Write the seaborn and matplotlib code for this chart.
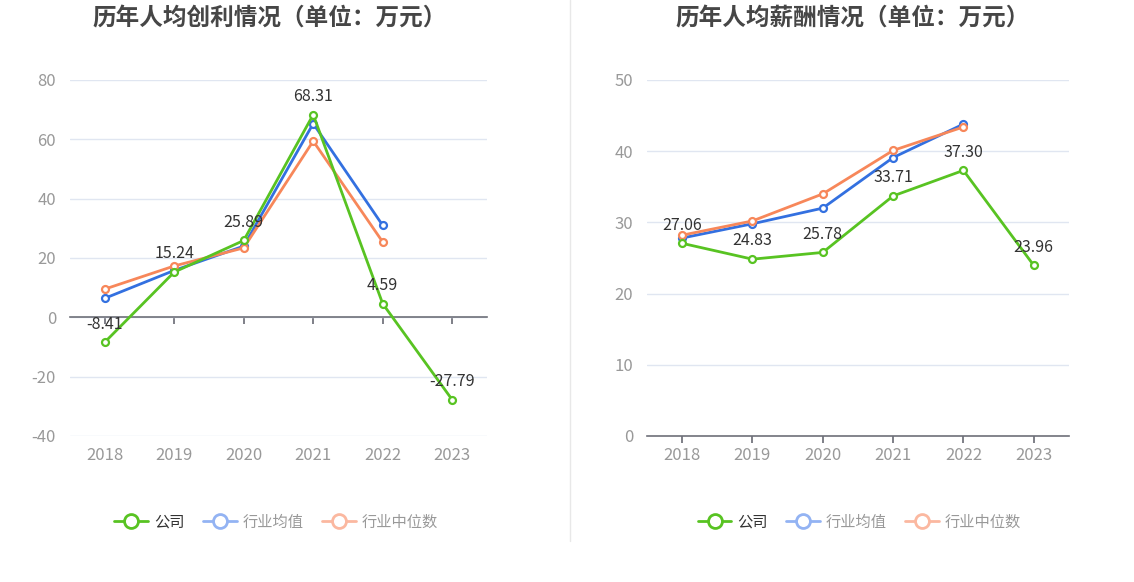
import matplotlib
matplotlib.use("Agg")
import matplotlib.pyplot as plt
import seaborn as sns
from matplotlib.lines import Line2D

years = ["2018", "2019", "2020", "2021", "2022", "2023"]

profit_company = [-8.41, 15.24, 25.89, 68.31, 4.59, -27.79]
profit_avg = [6.4, 15.8, 24.0, 65.3, 31.0]
profit_median = [9.5, 17.3, 23.4, 59.4, 25.4]

salary_company = [27.06, 24.83, 25.78, 33.71, 37.30, 23.96]
salary_avg = [27.8, 29.8, 32.0, 39.1, 43.8]
salary_median = [28.2, 30.2, 34.0, 40.1, 43.4]

series_names = ["公司", "行业均值", "行业中位数"]
colors = ["#58c322", "#3370e0", "#f7875a"]
legend_colors = ["#58c322", "#93b3f3", "#fbb8a0"]
legend_text = ["#333333", "#999999", "#999999"]

sns.set_theme(style="white")
plt.rcParams["font.family"] = ["Noto Sans CJK SC", "DejaVu Sans"]
plt.rcParams["axes.unicode_minus"] = False

fig = plt.figure(figsize=(11.34, 5.82), dpi=100)

panels = [
    dict(title="历年人均创利情况（单位：万元）", company=profit_company, avg=profit_avg,
         median=profit_median, ylim=(-40, 80), yticks=range(-40, 81, 20),
         rect=[0.0617, 0.2509, 0.3677, 0.6117], tx=0.238, lx=0.2436),
    dict(title="历年人均薪酬情况（单位：万元）", company=salary_company, avg=salary_avg,
         median=salary_median, ylim=(0, 50), yticks=range(0, 51, 10),
         rect=[0.5705, 0.2509, 0.3721, 0.6117], tx=0.752, lx=0.758),
]

for p in panels:
    ax = fig.add_axes(p["rect"])
    idx = list(range(len(years)))
    for vals, c in zip([p["avg"], p["median"], p["company"]], [colors[1], colors[2], colors[0]]):
        sns.lineplot(x=idx[:len(vals)], y=vals, ax=ax, color=c, linewidth=2,
                     marker="o", markersize=5, markerfacecolor="white",
                     markeredgecolor=c, markeredgewidth=1.6, zorder=3)
    for i, v in enumerate(p["company"]):
        ax.annotate(f"{v:.2f}", (i, v), xytext=(0, 7), textcoords="offset points",
                    ha="center", va="bottom", fontsize=11.5, color="#333333", zorder=5)

    ax.set_xlim(-0.5, len(years) - 0.5)
    ax.set_ylim(*p["ylim"])
    ax.set_yticks(list(p["yticks"]))
    ax.yaxis.grid(True, color="#e0e6f1", linewidth=1)
    ax.set_axisbelow(True)
    for s in ["top", "right", "left"]:
        ax.spines[s].set_visible(False)
    ax.spines["bottom"].set_position(("data", 0))
    ax.spines["bottom"].set_color("#6e7079")
    ax.spines["bottom"].set_linewidth(1.2)
    ax.set_xticks(idx)
    ax.tick_params(axis="x", direction="out", length=5, color="#6e7079",
                   labelbottom=False, bottom=True)
    ax.tick_params(axis="y", length=0, labelsize=12, labelcolor="#999999", pad=10)
    for i, lab in enumerate(years):
        ax.annotate(lab, (i, 0), xycoords=("data", "axes fraction"), xytext=(0, -8),
                    textcoords="offset points", ha="center", va="top",
                    fontsize=12, color="#999999")

    fig.text(p["tx"], 0.968, p["title"], ha="center", va="center",
             fontsize=17, fontweight="bold", color="#464646")

    handles = [Line2D([], [], color=c, linewidth=2, marker="o", markersize=10,
                      markerfacecolor="white", markeredgecolor=c, markeredgewidth=2)
               for c in legend_colors]
    leg = fig.legend(handles, series_names, loc="center", bbox_to_anchor=(p["lx"], 0.103),
                     ncol=3, frameon=False, fontsize=11, handlelength=2.2,
                     columnspacing=1.2, handletextpad=0.4)
    for t, c in zip(leg.get_texts(), legend_text):
        t.set_color(c)

fig.add_artist(Line2D([0.503, 0.503], [0.07, 1.0], color="#e8e8e8", linewidth=1))

fig.savefig("out.png", dpi=100)
